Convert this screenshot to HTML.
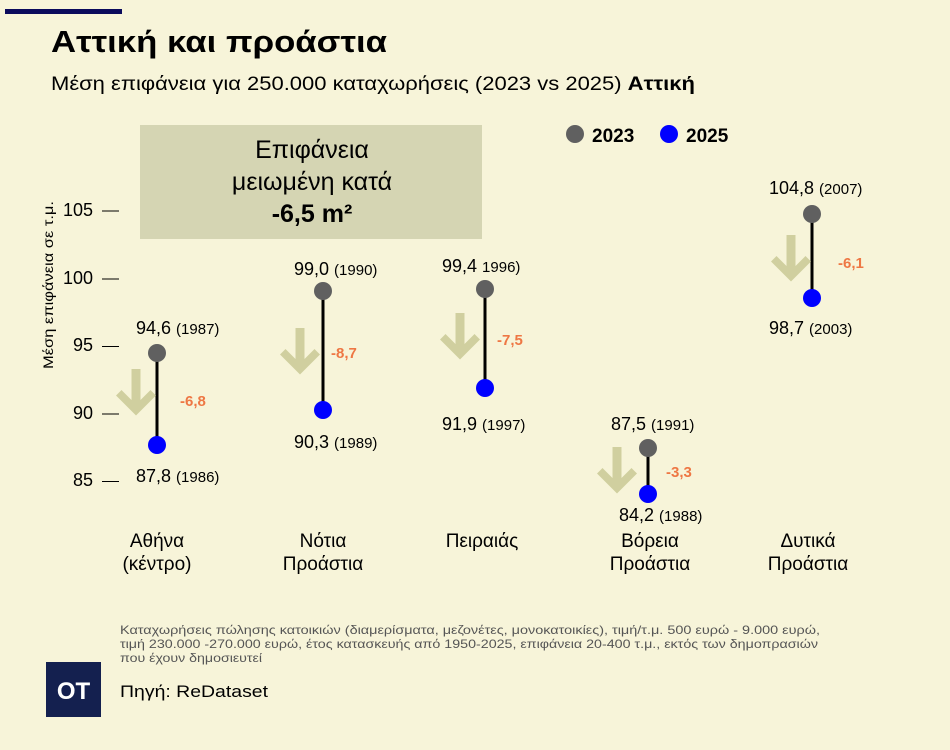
<!DOCTYPE html>
<html><head><meta charset="utf-8"><style>
body{margin:0;background:#f7f4d9;}
svg{display:block;font-family:"Liberation Sans","DejaVu Sans",sans-serif;}
</style></head><body>
<svg width="950" height="750" viewBox="0 0 950 750">
<rect width="950" height="750" fill="#f7f4d9"/>
<rect x="5" y="9" width="117" height="5" fill="#0b0b5c"/>
<text x="51" y="52" font-size="31" font-weight="bold" fill="#000" textLength="336" lengthAdjust="spacingAndGlyphs">Αττική και προάστια</text>
<text x="51" y="90" font-size="19" fill="#000" textLength="644" lengthAdjust="spacingAndGlyphs">Μέση επιφάνεια για 250.000 καταχωρήσεις (2023 vs 2025) <tspan font-weight="bold">Αττική</tspan></text>
<rect x="140" y="125" width="342" height="114" fill="#d5d5b3"/>
<g font-size="25" text-anchor="middle" fill="#000">
<text x="312" y="158">Επιφάνεια</text>
<text x="312" y="190">μειωμένη κατά</text>
<text x="312" y="222" font-weight="bold">-6,5 m²</text>
</g>
<circle cx="575" cy="134" r="9" fill="#606060"/>
<text x="592" y="142" font-size="19" font-weight="bold">2023</text>
<circle cx="669" cy="134" r="9" fill="#0000ff"/>
<text x="686" y="142" font-size="19" font-weight="bold">2025</text>
<text transform="translate(53,285) rotate(-90)" font-size="14" text-anchor="middle" textLength="168" lengthAdjust="spacingAndGlyphs">Μέση επιφάνεια σε τ.μ.</text>
<g font-size="18" text-anchor="end">
<text x="93" y="216">105</text><text x="93" y="284">100</text><text x="93" y="351">95</text><text x="93" y="419">90</text><text x="93" y="486">85</text>
</g>
<g stroke="#000" stroke-width="1">
<line x1="102" y1="211" x2="119" y2="211"/><line x1="102" y1="279" x2="119" y2="279"/><line x1="102" y1="346.5" x2="119" y2="346.5"/><line x1="102" y1="414" x2="119" y2="414"/><line x1="102" y1="481.5" x2="119" y2="481.5"/>
</g>
<defs><g id="arr"><path d="M-4.5,0 h9 v31 l10,-10 l5.5,5.5 l-20,20 l-20,-20 l5.5,-5.5 l10,10 z" fill="#d0cf9f"/></g></defs>
<!-- Athens -->
<line x1="157" y1="353" x2="157" y2="445" stroke="#000" stroke-width="3"/>
<circle cx="157" cy="353" r="9" fill="#606060"/><circle cx="157" cy="445" r="9" fill="#0000ff"/>
<use href="#arr" x="136" y="369"/>
<text x="136" y="334" font-size="18">94,6 <tspan font-size="15">(1987)</tspan></text>
<text x="136" y="482" font-size="18">87,8 <tspan font-size="15">(1986)</tspan></text>
<text x="180" y="406" font-size="15" font-weight="bold" fill="#ee7744">-6,8</text>
<!-- Notia -->
<line x1="323" y1="291" x2="323" y2="410" stroke="#000" stroke-width="3"/>
<circle cx="323" cy="291" r="9" fill="#606060"/><circle cx="323" cy="410" r="9" fill="#0000ff"/>
<use href="#arr" x="300" y="328"/>
<text x="294" y="275" font-size="18">99,0 <tspan font-size="15">(1990)</tspan></text>
<text x="294" y="448" font-size="18">90,3 <tspan font-size="15">(1989)</tspan></text>
<text x="331" y="358" font-size="15" font-weight="bold" fill="#ee7744">-8,7</text>
<!-- Peiraias -->
<line x1="485" y1="289" x2="485" y2="388" stroke="#000" stroke-width="3"/>
<circle cx="485" cy="289" r="9" fill="#606060"/><circle cx="485" cy="388" r="9" fill="#0000ff"/>
<use href="#arr" x="460" y="313"/>
<text x="442" y="272" font-size="18">99,4 <tspan font-size="15">1996)</tspan></text>
<text x="442" y="430" font-size="18">91,9 <tspan font-size="15">(1997)</tspan></text>
<text x="497" y="345" font-size="15" font-weight="bold" fill="#ee7744">-7,5</text>
<!-- Voreia -->
<line x1="648" y1="448" x2="648" y2="494" stroke="#000" stroke-width="3"/>
<circle cx="648" cy="448" r="9" fill="#606060"/><circle cx="648" cy="494" r="9" fill="#0000ff"/>
<use href="#arr" x="617" y="447"/>
<text x="611" y="430" font-size="18">87,5 <tspan font-size="15">(1991)</tspan></text>
<text x="619" y="521" font-size="18">84,2 <tspan font-size="15">(1988)</tspan></text>
<text x="666" y="477" font-size="15" font-weight="bold" fill="#ee7744">-3,3</text>
<!-- Dytika -->
<line x1="812" y1="214" x2="812" y2="298" stroke="#000" stroke-width="3"/>
<circle cx="812" cy="214" r="9" fill="#606060"/><circle cx="812" cy="298" r="9" fill="#0000ff"/>
<use href="#arr" x="791" y="235"/>
<text x="769" y="194" font-size="18">104,8 <tspan font-size="15">(2007)</tspan></text>
<text x="769" y="334" font-size="18">98,7 <tspan font-size="15">(2003)</tspan></text>
<text x="838" y="268" font-size="15" font-weight="bold" fill="#ee7744">-6,1</text>
<g font-size="19" text-anchor="middle">
<text x="157" y="547">Αθήνα</text><text x="157" y="570">(κέντρο)</text>
<text x="323" y="547">Νότια</text><text x="323" y="570">Προάστια</text>
<text x="482" y="547">Πειραιάς</text>
<text x="650" y="547">Βόρεια</text><text x="650" y="570">Προάστια</text>
<text x="808" y="547">Δυτικά</text><text x="808" y="570">Προάστια</text>
</g>
<g font-size="12" fill="#555">
<text x="120" y="634" textLength="700" lengthAdjust="spacingAndGlyphs">Καταχωρήσεις πώλησης κατοικιών (διαμερίσματα, μεζονέτες, μονοκατοικίες), τιμή/τ.μ.  500 ευρώ - 9.000 ευρώ,</text>
<text x="120" y="648" textLength="698" lengthAdjust="spacingAndGlyphs">τιμή 230.000 -270.000 ευρώ, έτος κατασκευής από 1950-2025, επιφάνεια 20-400 τ.μ., εκτός των δημοπρασιών</text>
<text x="120" y="662" textLength="142" lengthAdjust="spacingAndGlyphs">που έχουν δημοσιευτεί</text>
</g>
<rect x="46" y="662" width="55" height="55" fill="#14204f"/>
<text x="73.5" y="699" font-size="24" font-weight="bold" fill="#fff" text-anchor="middle">OT</text>
<text x="120" y="697" font-size="17" textLength="148" lengthAdjust="spacingAndGlyphs">Πηγή: ReDataset</text>
</svg>
</body></html>
